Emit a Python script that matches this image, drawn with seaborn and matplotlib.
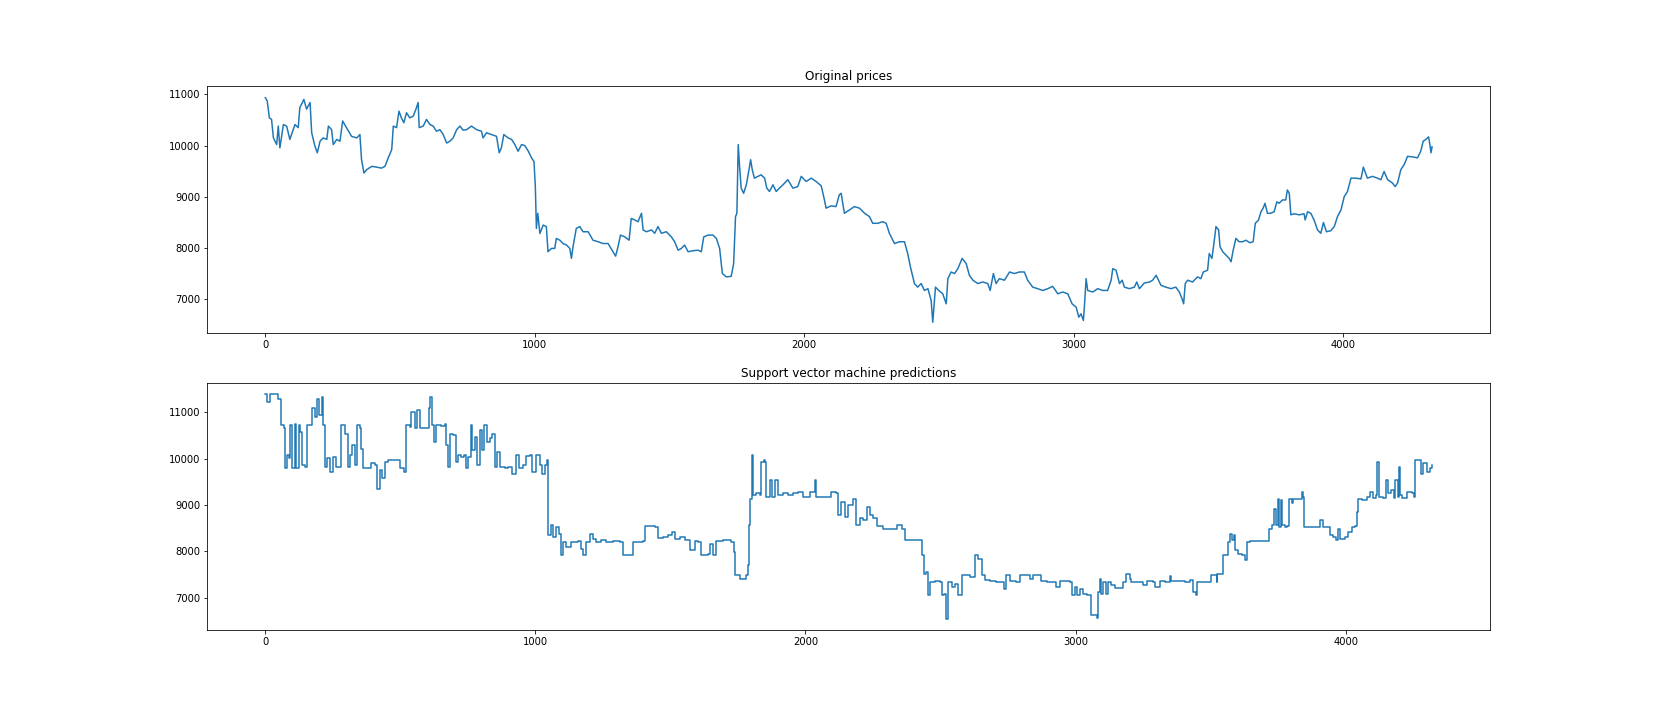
import pandas as pd
import seaborn as sns
import matplotlib
matplotlib.use("Agg")
import matplotlib.pyplot as plt

# original price series (index, price)
orig_idx = [0, 7, 15, 23, 30, 42, 48, 54, 67, 79, 91, 110, 122, 128, 143, 153, 166, 172, 184, 193,
            203, 215, 228, 234, 246, 252, 265, 277, 287, 301, 320, 339, 351, 357, 366, 376, 395, 413, 431, 444,
            456, 469, 475, 487, 496, 505, 514, 524, 536, 549, 561, 567, 571, 586, 598, 611, 623, 635, 648, 660,
            673, 685, 697, 710, 722, 734, 747, 765, 784, 802, 808, 821, 840, 858, 868, 876, 885, 901, 914, 926,
            938, 951, 963, 976, 988, 997, 1002, 1006, 1011, 1019, 1031, 1043, 1049, 1062, 1074, 1080, 1093, 1105, 1118, 1130,
            1136, 1142, 1154, 1167, 1179, 1198, 1216, 1235, 1253, 1272, 1290, 1300, 1309, 1318, 1334, 1350, 1358, 1371, 1383, 1396,
            1402, 1414, 1433, 1445, 1457, 1470, 1488, 1507, 1519, 1532, 1544, 1556, 1569, 1587, 1606, 1618, 1627, 1643, 1661, 1674,
            1686, 1696, 1711, 1729, 1738, 1745, 1750, 1755, 1760, 1766, 1775, 1785, 1795, 1801, 1807, 1815, 1828, 1840, 1853, 1861,
            1871, 1884, 1896, 1908, 1921, 1939, 1958, 1976, 1989, 2007, 2026, 2044, 2063, 2075, 2081, 2100, 2118, 2130, 2137, 2149,
            2168, 2186, 2205, 2224, 2242, 2254, 2273, 2291, 2304, 2316, 2335, 2353, 2372, 2384, 2394, 2409, 2421, 2434, 2446, 2459,
            2471, 2477, 2487, 2499, 2514, 2527, 2533, 2545, 2558, 2570, 2586, 2601, 2613, 2626, 2644, 2663, 2681, 2690, 2702, 2712,
            2724, 2743, 2762, 2780, 2798, 2817, 2829, 2848, 2866, 2885, 2904, 2922, 2941, 2959, 2978, 2994, 3009, 3019, 3027, 3036,
            3040, 3046, 3052, 3071, 3089, 3108, 3126, 3139, 3145, 3157, 3170, 3180, 3188, 3207, 3225, 3234, 3244, 3262, 3281, 3293,
            3306, 3324, 3342, 3361, 3379, 3392, 3402, 3408, 3414, 3423, 3441, 3460, 3472, 3481, 3497, 3503, 3513, 3522, 3528, 3538,
            3543, 3553, 3565, 3577, 3584, 3592, 3602, 3614, 3627, 3639, 3654, 3666, 3674, 3686, 3695, 3703, 3710, 3719, 3731, 3744,
            3754, 3762, 3775, 3787, 3793, 3800, 3806, 3818, 3837, 3855, 3859, 3868, 3880, 3892, 3905, 3917, 3927, 3938, 3954, 3967,
            3979, 3992, 4004, 4016, 4029, 4047, 4066, 4075, 4090, 4109, 4127, 4140, 4152, 4165, 4183, 4193, 4202, 4214, 4226, 4239,
            4257, 4276, 4288, 4297, 4307, 4317, 4322, 4326, 4330]
orig_price = [10935, 10870, 10540, 10510, 10150, 10020, 10380, 9955, 10410, 10380, 10120, 10410, 10350, 10740, 10900, 10710, 10840, 10250, 9990, 9860,
              10085, 10150, 10120, 10380, 10310, 10020, 10120, 10085, 10480, 10350, 10180, 10150, 10215, 9725, 9465, 9530, 9595, 9580, 9560, 9595,
              9760, 9920, 10380, 10350, 10670, 10540, 10445, 10640, 10540, 10575, 10740, 10840, 10350, 10380, 10510, 10410, 10380, 10280, 10310, 10215,
              10050, 10085, 10150, 10310, 10380, 10300, 10310, 10380, 10310, 10280, 10150, 10250, 10215, 10180, 9860, 9955, 10215, 10150, 10120, 10020,
              9890, 10020, 10000, 9890, 9760, 9690, 9200, 8385, 8680, 8285, 8450, 8420, 7930, 7995, 7995, 8190, 8155, 8090, 8060, 7995,
              7800, 8030, 8385, 8420, 8320, 8320, 8155, 8125, 8090, 8090, 7930, 7845, 8030, 8255, 8220, 8155, 8580, 8550, 8515, 8680,
              8355, 8320, 8355, 8290, 8420, 8290, 8320, 8220, 8125, 7960, 7995, 8060, 7930, 7950, 7960, 7930, 8220, 8255, 8255, 8190,
              7995, 7505, 7440, 7450, 7700, 8615, 8680, 10020, 9595, 9170, 9070, 9235, 9530, 9725, 9530, 9365, 9400, 9430, 9365, 9170,
              9105, 9235, 9105, 9170, 9235, 9335, 9170, 9200, 9400, 9300, 9365, 9300, 9215, 8940, 8780, 8825, 8810, 9040, 9070, 8680,
              8745, 8810, 8780, 8680, 8615, 8485, 8485, 8515, 8485, 8290, 8090, 8125, 8125, 7895, 7635, 7310, 7240, 7310, 7175, 7210,
              6980, 6555, 7240, 7175, 7110, 6915, 7405, 7535, 7505, 7600, 7800, 7700, 7470, 7375, 7310, 7340, 7310, 7175, 7505, 7310,
              7405, 7375, 7535, 7505, 7535, 7535, 7375, 7240, 7210, 7175, 7210, 7255, 7110, 7145, 7110, 6915, 6850, 6655, 6720, 6590,
              6880, 7405, 7175, 7145, 7210, 7175, 7175, 7375, 7600, 7570, 7310, 7375, 7240, 7210, 7240, 7340, 7210, 7320, 7340, 7375,
              7470, 7275, 7240, 7210, 7240, 7145, 7015, 6915, 7310, 7375, 7340, 7440, 7405, 7535, 7570, 7895, 7800, 8155, 8420, 8355,
              8030, 7930, 7865, 7800, 7735, 7960, 8190, 8125, 8125, 8155, 8105, 8125, 8485, 8550, 8710, 8780, 8875, 8680, 8680, 8710,
              8905, 8875, 8940, 8940, 9135, 9070, 8650, 8670, 8650, 8670, 8550, 8710, 8680, 8550, 8355, 8290, 8500, 8320, 8340, 8420,
              8615, 8745, 9005, 9105, 9365, 9365, 9350, 9580, 9365, 9400, 9365, 9335, 9495, 9335, 9270, 9200, 9270, 9530, 9625, 9790,
              9780, 9760, 9890, 10085, 10120, 10170, 10020, 9860, 9975]

# SVM predicted prices (index, price)
svm_idx = [0, 6, 16, 41, 47, 56, 59, 68, 74, 80, 88, 93, 99, 108, 115, 123, 130, 137, 146, 154,
           167, 173, 183, 191, 199, 210, 214, 220, 230, 241, 251, 263, 275, 281, 294, 306, 315, 322, 331, 340,
           349, 356, 362, 380, 393, 405, 414, 423, 433, 442, 454, 473, 491, 500, 512, 522, 535, 541, 553, 562,
           572, 590, 599, 605, 611, 617, 623, 633, 652, 664, 670, 677, 685, 695, 705, 714, 726, 735, 742, 751,
           760, 767, 776, 784, 794, 804, 810, 819, 831, 841, 849, 858, 868, 886, 899, 915, 927, 940, 954, 967,
           979, 989, 1001, 1016, 1026, 1035, 1044, 1048, 1056, 1065, 1075, 1088, 1094, 1102, 1115, 1133, 1158, 1170, 1178, 1189,
           1201, 1214, 1226, 1244, 1263, 1288, 1312, 1325, 1349, 1361, 1398, 1405, 1442, 1454, 1473, 1491, 1505, 1517, 1534, 1553,
           1572, 1590, 1602, 1614, 1639, 1645, 1658, 1670, 1695, 1726, 1734, 1739, 1756, 1781, 1787, 1792, 1796, 1801, 1806, 1818,
           1830, 1837, 1845, 1850, 1855, 1867, 1877, 1886, 1898, 1917, 1935, 1954, 1972, 1990, 2015, 2034, 2040, 2059, 2077, 2096,
           2114, 2121, 2133, 2145, 2158, 2176, 2188, 2201, 2213, 2228, 2238, 2251, 2263, 2288, 2312, 2337, 2356, 2368, 2399, 2423,
           2430, 2438, 2448, 2454, 2460, 2479, 2498, 2504, 2512, 2520, 2529, 2541, 2553, 2565, 2578, 2596, 2608, 2627, 2639, 2646,
           2652, 2664, 2682, 2707, 2726, 2734, 2744, 2757, 2781, 2796, 2825, 2831, 2843, 2862, 2871, 2893, 2911, 2927, 2942, 2967,
           2979, 2985, 2998, 3004, 3016, 3028, 3041, 3053, 3057, 3078, 3084, 3090, 3096, 3102, 3112, 3121, 3133, 3146, 3165, 3174,
           3187, 3201, 3207, 3232, 3251, 3263, 3287, 3293, 3312, 3330, 3348, 3355, 3386, 3404, 3423, 3436, 3446, 3451, 3473, 3495,
           3500, 3516, 3522, 3525, 3541, 3545, 3560, 3566, 3572, 3578, 3585, 3591, 3603, 3615, 3627, 3633, 3646, 3664, 3689, 3710,
           3717, 3726, 3735, 3742, 3748, 3754, 3760, 3766, 3775, 3784, 3791, 3800, 3806, 3825, 3837, 3843, 3846, 3868, 3893, 3906,
           3915, 3936, 3942, 3954, 3964, 3971, 3979, 3998, 4010, 4022, 4035, 4041, 4047, 4059, 4078, 4090, 4102, 4111, 4117, 4123,
           4139, 4149, 4158, 4168, 4178, 4183, 4193, 4196, 4202, 4208, 4226, 4245, 4252, 4257, 4273, 4278, 4288, 4301, 4313, 4320]
svm_price = [11395, 11230, 11395, 11390, 11300, 11290, 10725, 10655, 9800, 10080, 10010, 10725, 9800, 10760, 9800, 10725, 10580, 9860, 9825, 10725,
             10725, 11085, 10905, 11300, 10940, 11340, 10725, 9825, 10010, 9715, 10040, 9825, 9825, 10725, 10545, 9825, 10080, 10295, 9860, 10725,
             10655, 10220, 9805, 9805, 9900, 9860, 9355, 9755, 9575, 9935, 9970, 9970, 9970, 9790, 9715, 10725, 10690, 11015, 10655, 11050,
             10655, 10655, 10655, 11085, 11340, 10725, 10365, 10725, 10710, 10740, 10295, 9825, 10545, 10510, 9935, 10080, 10040, 10080, 9790, 10040,
             10725, 10185, 10475, 9860, 10620, 10185, 10725, 10365, 10440, 10545, 9825, 10150, 9825, 9790, 9825, 9680, 10080, 9790, 9860, 10065,
             10080, 9715, 10080, 9860, 9680, 9860, 9970, 8350, 8565, 8310, 8530, 8385, 7915, 8205, 8095, 8205, 8220, 8060, 7915, 8205,
             8385, 8275, 8205, 8240, 8205, 8220, 8205, 7915, 7915, 8205, 8220, 8550, 8530, 8290, 8310, 8360, 8420, 8260, 8310, 8240,
             8025, 8220, 8205, 7915, 7950, 8170, 7915, 8220, 8240, 8205, 7990, 7485, 7410, 7485, 7700, 8565, 9140, 10080, 9210, 9250,
             9210, 9935, 9970, 9935, 9175, 9535, 9175, 9535, 9210, 9250, 9210, 9250, 9285, 9175, 9285, 9535, 9175, 9175, 9175, 9285,
             9250, 8780, 9070, 8745, 8995, 9140, 8565, 8710, 8670, 8960, 8780, 8710, 8550, 8490, 8480, 8565, 8490, 8240, 8240, 8240,
             7915, 7520, 7555, 7050, 7340, 7355, 7340, 7050, 7085, 6545, 7340, 7230, 7300, 7050, 7485, 7500, 7445, 7915, 7845, 7845,
             7485, 7375, 7355, 7340, 7340, 7195, 7485, 7355, 7340, 7500, 7500, 7410, 7500, 7500, 7355, 7340, 7340, 7230, 7355, 7355,
             7340, 7050, 7230, 7050, 7195, 7085, 7050, 7050, 6620, 6560, 7125, 7410, 7085, 7340, 7085, 7340, 7265, 7210, 7210, 7340,
             7520, 7410, 7340, 7340, 7265, 7355, 7340, 7230, 7355, 7340, 7470, 7355, 7355, 7340, 7375, 7125, 7050, 7340, 7340, 7340,
             7485, 7485, 7340, 7520, 7520, 7915, 7930, 8205, 8385, 8240, 8350, 8025, 7950, 7915, 7805, 8205, 8220, 8220, 8220, 8220,
             8490, 8565, 8925, 8565, 9140, 8530, 9105, 8565, 8530, 8550, 9140, 9035, 9140, 9140, 9285, 9175, 8530, 8530, 8530, 8670,
             8530, 8530, 8350, 8310, 8240, 8490, 8275, 8310, 8420, 8530, 8550, 8855, 9140, 9105, 9175, 9285, 9155, 9210, 9935, 9175,
             9155, 9535, 9250, 9320, 9155, 9535, 9175, 9825, 9210, 9155, 9285, 9270, 9175, 9970, 9970, 9680, 9900, 9715, 9790, 9860]

df_orig = pd.DataFrame({"idx": orig_idx, "price": orig_price})
df_svm = pd.DataFrame({"idx": svm_idx, "price": svm_price})

fig, axes = plt.subplots(2, 1, figsize=(23, 10), dpi=72)
fig.subplots_adjust(left=0.125, right=0.9, top=0.88, bottom=0.125, hspace=0.2)

sns.lineplot(data=df_orig, x="idx", y="price", ax=axes[0], color="#1f77b4", linewidth=1.5)
axes[0].set_title("Original prices")

# predictions are flat plateaus with sharp jumps -> draw as steps
sns.lineplot(data=df_svm, x="idx", y="price", ax=axes[1], color="#1f77b4", linewidth=1.5,
             drawstyle="steps-post")
axes[1].set_title("Support vector machine predictions")

for ax in axes:
    ax.set_xlabel("")
    ax.set_ylabel("")
    ax.set_xticks([0, 1000, 2000, 3000, 4000])
    ax.set_yticks([7000, 8000, 9000, 10000, 11000])

fig.savefig("out.png", dpi=72)
